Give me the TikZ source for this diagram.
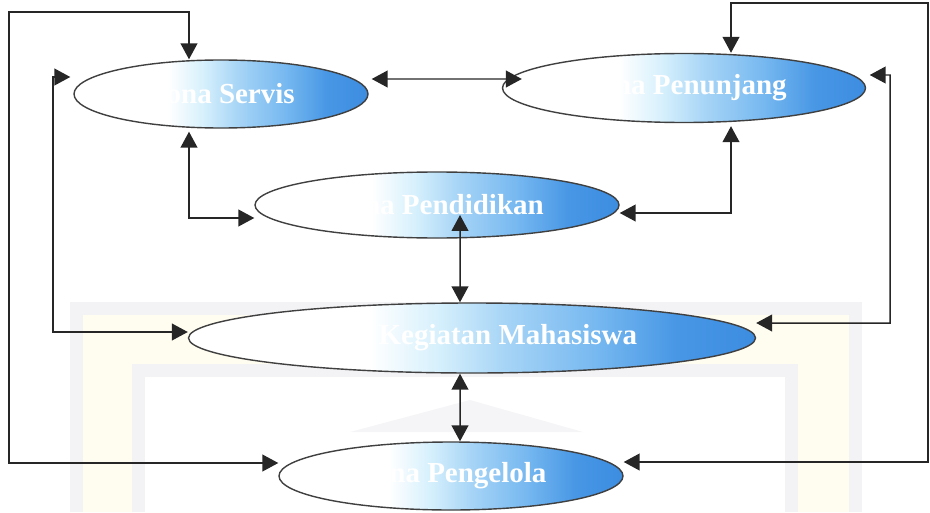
\documentclass[tikz,border=0pt]{standalone}
\usepackage{fontspec}
\setmainfont{Liberation Serif}
\usetikzlibrary{arrows.meta}
\usetikzlibrary{positioning,calc,shapes}
\definecolor{zoneblue}{RGB}{60,140,225}
\definecolor{zonedeep}{RGB}{72,151,229}
\definecolor{zonemid}{RGB}{118,184,240}
\definecolor{zonelight}{RGB}{166,212,246}
\definecolor{zonecyan}{RGB}{214,240,252}
\definecolor{wmgrey}{RGB}{243,243,245}
\definecolor{wmcream}{RGB}{255,252,240}
\pgfdeclarehorizontalshading{zoneshade}{100bp}{color(0bp)=(white); color(41bp)=(white); color(47bp)=(zonecyan); color(53bp)=(zonelight); color(61bp)=(zonemid); color(68bp)=(zonedeep); color(75bp)=(zoneblue); color(100bp)=(zoneblue)}
\tikzset{
    zone/.style={
        draw=black!75,
        ellipse,
        shade,
        shading=zoneshade,
        minimum height=1.36cm,
        inner sep=0pt,
        line width=0.8pt,
        text=white,
        font=\fontsize{16.5}{18}\selectfont\bfseries
    },
    link/.style={
        draw=black!85,
        {Triangle[length=9pt, width=9.5pt]}-{Triangle[length=9pt, width=9.5pt]},
        line width=0.85pt
    }
}

\begin{document}
\begin{tikzpicture}
  \useasboundingbox (0,0) rectangle (18.6,10.24);

  % faint watermark behind the diagram
  \fill[wmcream, even odd rule] (1.4,0) rectangle (17.24,4.2) (2.9,0) rectangle (15.7,2.7);
  \draw[wmgrey, line width=0.26cm] (1.53,0) |- (17.11,4.07) -- (17.11,0);
  \draw[wmgrey, line width=0.26cm] (2.77,0) |- (15.83,2.83) -- (15.83,0);
  \fill[wmgrey!80] (7.0,1.6) -- (9.4,2.24) -- (11.66,1.6) -- cycle;

  \node[zone, minimum width=5.88cm] (servis) at (4.42,8.36) {Zona Servis};
  \node[zone, minimum width=7.26cm, minimum height=1.38cm] (penunjang) at (13.68,8.48) {Zona Penunjang};
  \node[zone, minimum width=7.28cm, minimum height=1.32cm] (pendidikan) at (8.74,6.14) {Zona Pendidikan};
  \node[zone, minimum width=11.34cm, minimum height=1.4cm] (kegiatan) at (9.44,3.48) {Zona Kegiatan Mahasiswa};
  \node[zone, minimum width=6.88cm] (pengelola) at (9.02,0.72) {Zona Pengelola};

  \coordinate (tl) at (0.18,10.0);
  \coordinate (tr) at (18.56,10.18);
  \coordinate (ml) at (1.06,8.70);
  \coordinate (mr) at (17.8,8.74);

  \draw[link] ($(pengelola.west)+(0,0.26)$) -| (tl) -| ($(servis.north)+(-0.64,0)$);
  \draw[link] ($(pengelola.east)+(0,0.28)$) -| (tr) -| ($(penunjang.north)+(0.94,0)$);
  \draw[link] ($(servis.east)+(0.06,0.3)$) -- ($(penunjang.west)+(0.4,0.18)$);
  \draw[link] ($(servis.south)+(-0.64,-0.06)$) |- ($(pendidikan.west)+(0,-0.26)$);
  \draw[link] ($(penunjang.south)+(0.94,-0.06)$) |- ($(pendidikan.east)+(0,-0.16)$);
  \draw[link] ($(kegiatan.north)+(-0.24,0)$) -- ($(pendidikan.center)+(0.46,-0.2)$);
  \draw[link] ($(kegiatan.south)+(-0.24,0)$) -- ($(pengelola.north)+(0.18,0)$);
  \draw[link] ($(servis.west)+(-0.06,0.34)$) -- (ml) |- ($(kegiatan.west)+(0,0.12)$);
  \draw[link] ($(penunjang.east)+(0.07,0.26)$) -- (mr) |- ($(kegiatan.east)+(0,0.3)$);
\end{tikzpicture}
\end{document}
